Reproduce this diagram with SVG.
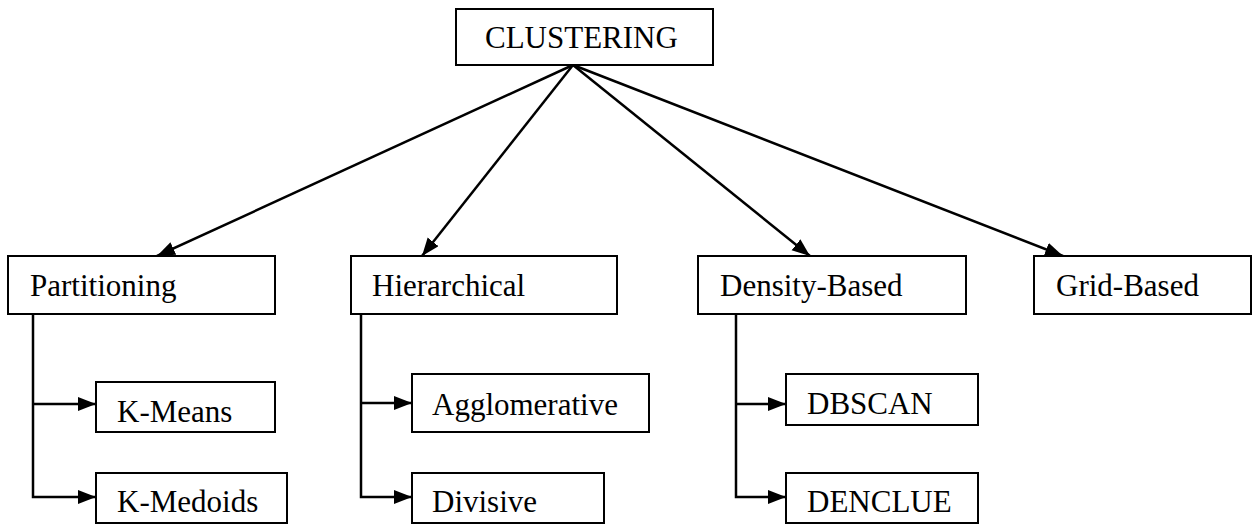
<svg xmlns="http://www.w3.org/2000/svg" width="1253" height="524" viewBox="0 0 1253 524">
<style>
.box{fill:#fff;stroke:#000;stroke-width:2}
.c{stroke:#000;stroke-width:2.5;fill:none}
</style>
<defs>
<marker id="ah" markerUnits="userSpaceOnUse" markerWidth="20" markerHeight="16" refX="18" refY="7" orient="auto">
<path d="M0,0 L18,7 L0,14 z" fill="#000"/>
</marker>
</defs>
<rect width="1253" height="524" fill="#fff"/>
<g id="connectors">
<line class="c" x1="573" y1="65" x2="157" y2="256" marker-end="url(#ah)"/>
<line class="c" x1="573" y1="65" x2="422" y2="256" marker-end="url(#ah)"/>
<line class="c" x1="573" y1="65" x2="810" y2="256" marker-end="url(#ah)"/>
<line class="c" x1="573" y1="65" x2="1063" y2="256" marker-end="url(#ah)"/>
<polyline class="c" points="33,314 33,497 96,497" marker-end="url(#ah)"/>
<line class="c" x1="33" y1="404" x2="96" y2="404" marker-end="url(#ah)"/>
<polyline class="c" points="361,314 361,497 412,497" marker-end="url(#ah)"/>
<line class="c" x1="361" y1="403" x2="412" y2="403" marker-end="url(#ah)"/>
<polyline class="c" points="736,314 736,497 786,497" marker-end="url(#ah)"/>
<line class="c" x1="736" y1="404" x2="786" y2="404" marker-end="url(#ah)"/>
</g>
<g font-family="Liberation Serif, DejaVu Serif, serif" font-size="31" fill="#000">
<g id="clustering"><rect class="box" x="456" y="9" width="257" height="56"/><text x="485" y="48">CLUSTERING</text></g>
<g id="partitioning"><rect class="box" x="8" y="256" width="267" height="58"/><text x="30" y="296">Partitioning</text></g>
<g id="hierarchical"><rect class="box" x="351" y="256" width="266" height="58"/><text x="372" y="296">Hierarchical</text></g>
<g id="density"><rect class="box" x="698" y="256" width="268" height="58"/><text x="720" y="296">Density-Based</text></g>
<g id="grid"><rect class="box" x="1034" y="256" width="217" height="58"/><text x="1056" y="296">Grid-Based</text></g>
<g id="kmeans"><rect class="box" x="96" y="382" width="179" height="50"/><text x="117" y="422">K-Means</text></g>
<g id="kmedoids"><rect class="box" x="96" y="473" width="191" height="50"/><text x="117" y="512">K-Medoids</text></g>
<g id="agglomerative"><rect class="box" x="412" y="374" width="237" height="58"/><text x="432" y="415">Agglomerative</text></g>
<g id="divisive"><rect class="box" x="412" y="473" width="192" height="50"/><text x="432" y="512">Divisive</text></g>
<g id="dbscan"><rect class="box" x="786" y="374" width="192" height="51"/><text x="807" y="414">DBSCAN</text></g>
<g id="denclue"><rect class="box" x="786" y="473" width="192" height="50"/><text x="807" y="512">DENCLUE</text></g>
</g>
</svg>
